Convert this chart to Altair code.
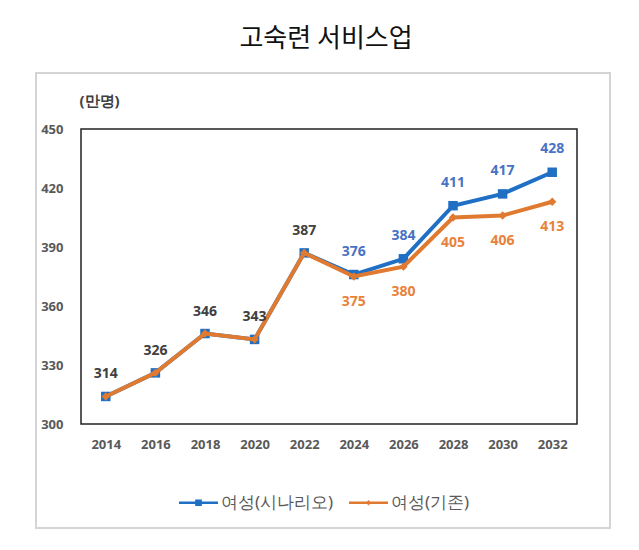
import altair as alt
import pandas as pd

years = ["2014", "2016", "2018", "2020", "2022", "2024", "2026", "2028", "2030", "2032"]
scenario = [314, 326, 346, 343, 387, 376, 384, 411, 417, 428]
baseline = [314, 326, 346, 343, 387, 375, 380, 405, 406, 413]
series_names = ["여성(시나리오)", "여성(기존)"]
title_text = "고숙련 서비스업"
unit_text = "(만명)"

rows = []
for i, y in enumerate(years):
    rows.append({"year": y, "value": scenario[i], "series": series_names[0], "idx": i})
    rows.append({"year": y, "value": baseline[i], "series": series_names[1], "idx": i})
df = pd.DataFrame(rows)

BLUE = "#1F6FC4"
ORANGE = "#E07A30"
BLUE_TXT = "#4A72C4"
ORANGE_TXT = "#E8823A"
DARK = "#404040"
GRAY = "#595959"

x_enc = alt.X("year:N", sort=years,
              scale=alt.Scale(paddingInner=1, paddingOuter=0.5),
              axis=alt.Axis(title=None, labelAngle=0, ticks=False, domain=False,
                            labelPadding=14, labelFontSize=13, labelFontWeight="bold",
                            labelColor=GRAY, labelFont="Noto Sans"))
y_enc = alt.Y("value:Q",
              scale=alt.Scale(domain=[300, 450], nice=False, zero=False),
              axis=alt.Axis(values=[300, 330, 360, 390, 420, 450], grid=False, ticks=False,
                            domain=False, labelPadding=18, labelFontSize=13,
                            labelFontWeight="bold", labelColor=GRAY, labelFont="Noto Sans",
                            title=unit_text, titleAngle=0, titleX=-2, titleY=-29,
                            titleAlign="left", titleBaseline="middle", titleFontSize=15,
                            titleFontWeight="bold", titleColor=DARK, titleFont="Noto Sans"))

base = alt.Chart(df).encode(x=x_enc, y=y_enc)
blue_f = alt.datum.series == series_names[0]
orange_f = alt.datum.series == series_names[1]

frame = alt.Chart(df).mark_rect(fill=None, stroke="#d4d4d4", strokeWidth=2).encode(
    x=alt.value(-45), x2=alt.value(529), y=alt.value(-56), y2=alt.value(399))

blue_line = base.transform_filter(blue_f).mark_line(color=BLUE, strokeWidth=4)
blue_pts = base.transform_filter(blue_f).mark_point(shape="square", filled=True, size=90,
                                                    color=BLUE, opacity=1)
orange_line = base.transform_filter(orange_f).mark_line(color=ORANGE, strokeWidth=4)
orange_pts = base.transform_filter(orange_f).mark_point(shape="diamond", filled=True, size=70,
                                                        color=ORANGE, opacity=1)

lbl_font = dict(font="Noto Sans", fontSize=14, fontWeight="bold")
dark_lbl = base.transform_filter(blue_f).transform_filter(alt.datum.idx <= 4).mark_text(
    color=DARK, dy=-22, **lbl_font).encode(text="value:Q")
blue_lbl = base.transform_filter(blue_f).transform_filter(alt.datum.idx >= 5).mark_text(
    color=BLUE_TXT, dy=-23, **lbl_font).encode(text="value:Q")
orange_lbl = base.transform_filter(orange_f).transform_filter(alt.datum.idx >= 5).mark_text(
    color=ORANGE_TXT, dy=25, **lbl_font).encode(text="value:Q")

sq_path = "M-1,-0.065H1V0.065H-1Z M-0.17,-0.17H0.17V0.17H-0.17Z"
dm_path = "M-1,-0.06H1V0.06H-1Z M0,-0.14L0.13,0L0,0.14L-0.13,0Z"
legend_layer = base.transform_filter("false").mark_point(filled=True, opacity=1).encode(
    color=alt.Color("series:N", scale=alt.Scale(domain=series_names, range=[BLUE, ORANGE]),
                    legend=alt.Legend(title=None, orient="none", direction="horizontal",
                                      legendX=98, legendY=354, symbolSize=1521,
                                      symbolOpacity=1, symbolStrokeWidth=0,
                                      labelFontSize=17, labelColor=GRAY, labelFont="Noto Sans",
                                      labelOffset=3, columnPadding=15)),
    shape=alt.Shape("series:N", scale=alt.Scale(domain=series_names, range=[sq_path, dm_path]),
                    legend=alt.Legend(title=None)))

chart = alt.layer(frame, blue_line, blue_pts, orange_line, orange_pts,
                  dark_lbl, blue_lbl, orange_lbl, legend_layer).properties(
    width=496, height=295,
    title=alt.TitleParams(title_text, fontSize=26, fontWeight="normal", color="#111111",
                          font="Noto Sans CJK KR", anchor="middle", dx=-3, offset=20),
    autosize=alt.AutoSizeParams(type="none"),
    padding={"left": 73, "top": 121, "right": 50, "bottom": 110},
).configure_view(stroke="#222222", strokeWidth=1.5)

chart.save("out.html", embed_options={"renderer": "svg", "actions": False})
